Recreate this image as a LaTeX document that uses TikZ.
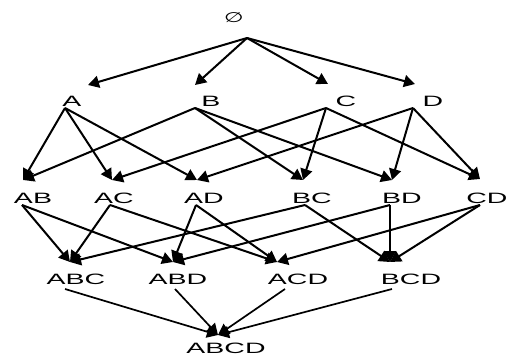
\documentclass[tikz,border=0pt]{standalone}
\usepackage{fontspec}
\usepackage{graphicx}
\setmainfont{Liberation Sans}
\newfontfamily\djv{DejaVu Sans}
\usetikzlibrary{arrows.meta}
\newcommand\wide[1]{\scalebox{1.9}[1]{#1}}
\begin{document}
\begin{tikzpicture}[x=1pt,y=-1pt,
  lab/.style={inner sep=0pt,font=\fontsize{15}{15}\selectfont},
  arr/.style={line width=2pt,-{Triangle[length=11pt,width=12pt]}},
  arrb/.style={line width=1.7pt,-{Triangle[length=11pt,width=12pt]}}]
\useasboundingbox[fill=white] (0,0) rectangle (507,356);
% vertices
\node[lab] (E) at (234,18) {\djv\fontsize{14}{14}\selectfont\scalebox{1.6}[1]{∅}};
\node[lab] (A) at (72,101) {\wide{A}};
\node[lab] (B) at (211,101) {\wide{B}};
\node[lab] (C) at (346,101) {\wide{C}};
\node[lab] (D) at (433,101) {\wide{D}};
\node[lab] (AB) at (33,198) {\wide{AB}};
\node[lab] (AC) at (114,198) {\wide{AC}};
\node[lab] (AD) at (204,198) {\wide{AD}};
\node[lab] (BC) at (312,198) {\wide{BC}};
\node[lab] (BD) at (402,198) {\wide{BD}};
\node[lab] (CD) at (487,198) {\wide{CD}};
\node[lab] (ABC) at (76,279) {\wide{ABC}};
\node[lab] (ABD) at (178,279) {\wide{ABD}};
\node[lab] (ACD) at (298,279) {\wide{ACD}};
\node[lab] (BCD) at (411,279) {\wide{BCD}};
\node[lab] (ABCD) at (226,348) {\wide{ABCD}};
% level 0 -> 1
\draw[arr] ([shift={(13,20)}]E.center) -- ([shift={(16,-16)}]A.center);
\draw[arr] ([shift={(13,20)}]E.center) -- ([shift={(-16,-16)}]B.center);
\draw[arr] ([shift={(13,20)}]E.center) -- ([shift={(-18,-17)}]C.center);
\draw[arr] ([shift={(13,20)}]E.center) -- ([shift={(-18,-17)}]D.center);
% level 1 -> 2
\draw[arr] ([shift={(-7,7)}]A.center) -- ([shift={(-10,-18)}]AB.center);
\draw[arr] ([shift={(-7,7)}]A.center) -- ([shift={(-2,-18)}]AC.center);
\draw[arr] ([shift={(-7,7)}]A.center) -- ([shift={(-7,-18)}]AD.center);
\draw[arr] ([shift={(-16,7)}]B.center) -- ([shift={(-10,-18)}]AB.center);
\draw[arr] ([shift={(-16,7)}]B.center) -- ([shift={(-9,-18)}]BC.center);
\draw[arr] ([shift={(-16,7)}]B.center) -- ([shift={(-10,-18)}]BD.center);
\draw[arr] ([shift={(-20,7)}]C.center) -- ([shift={(-2,-18)}]AC.center);
\draw[arr] ([shift={(-20,7)}]C.center) -- ([shift={(-9,-18)}]BC.center);
\draw[arr] ([shift={(-20,7)}]C.center) -- ([shift={(-7,-19)}]CD.center);
\draw[arr] ([shift={(-20,7)}]D.center) -- ([shift={(-7,-18)}]AD.center);
\draw[arr] ([shift={(-20,7)}]D.center) -- ([shift={(-10,-18)}]BD.center);
\draw[arr] ([shift={(-20,7)}]D.center) -- ([shift={(-7,-19)}]CD.center);
% level 2 -> 3
\draw[arr] ([shift={(-11,7)}]AB.center) -- ([shift={(-6,-17)}]ABC.center);
\draw[arr] ([shift={(-11,7)}]AB.center) -- ([shift={(-5,-17)}]ABD.center);
\draw[arr] ([shift={(-4,7)}]AC.center) -- ([shift={(-6,-17)}]ABC.center);
\draw[arr] ([shift={(-4,7)}]AC.center) -- ([shift={(-21,-17)}]ACD.center);
\draw[arr] ([shift={(-8,7)}]AD.center) -- ([shift={(-5,-17)}]ABD.center);
\draw[arr] ([shift={(-8,7)}]AD.center) -- ([shift={(-21,-17)}]ACD.center);
\draw[arr] ([shift={(-7,7)}]BC.center) -- ([shift={(-6,-17)}]ABC.center);
\draw[arr] ([shift={(-7,7)}]BC.center) -- ([shift={(-21,-17)}]BCD.center);
\draw[arr] ([shift={(-12,7)}]BD.center) -- ([shift={(-5,-17)}]ABD.center);
\draw[arr] ([shift={(-12,7)}]BD.center) -- ([shift={(-21,-17)}]BCD.center);
\draw[arr] ([shift={(-7,7)}]CD.center) -- ([shift={(-21,-17)}]ACD.center);
\draw[arr] ([shift={(-7,7)}]CD.center) -- ([shift={(-21,-17)}]BCD.center);
% level 3 -> 4
\draw[arrb] ([shift={(-11,10)}]ABC.center) -- ([shift={(-8,-13)}]ABCD.center);
\draw[arrb] ([shift={(-3,10)}]ABD.center) -- ([shift={(-8,-13)}]ABCD.center);
\draw[arrb] ([shift={(-13,10)}]ACD.center) -- ([shift={(-8,-13)}]ABCD.center);
\draw[arrb] ([shift={(-19,10)}]BCD.center) -- ([shift={(-8,-13)}]ABCD.center);
\end{tikzpicture}
\end{document}
